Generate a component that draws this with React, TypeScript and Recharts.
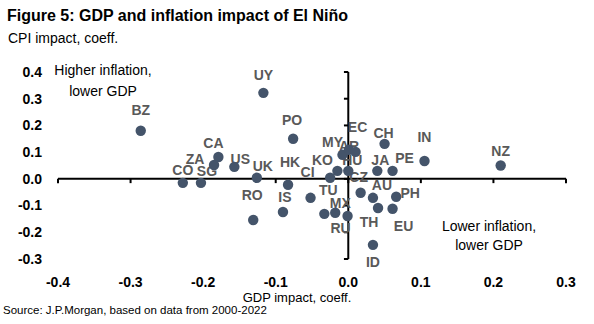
import { ScatterChart, Scatter, XAxis, YAxis, ReferenceLine } from 'recharts';

// Country codes; '' is a dot with no label in the source chart
const countries = [
  'BZ', 'UY', 'CA', 'ZA', 'CO', 'SG', 'US', 'UK', 'RO', 'IS', 'HK', 'PO',
  'CI', 'TU', 'MX', 'RU', '', 'KO', 'HU', 'MY', 'AR', 'EC', 'CZ', 'AU',
  'TH', 'EU', 'PH', 'JA', 'PE', 'CH', 'ID', 'IN', 'NZ',
];
const gdpImpact = [
  -0.286, -0.117, -0.179, -0.185, -0.228, -0.203, -0.157, -0.126, -0.131, -0.09, -0.083, -0.076,
  -0.052, -0.033, -0.018, -0.001, -0.025, -0.015, 0.0, -0.008, 0.001, 0.01, 0.017, 0.034,
  0.041, 0.061, 0.066, 0.04, 0.061, 0.05, 0.034, 0.105, 0.21,
];
const cpiImpact = [
  0.18, 0.322, 0.082, 0.052, -0.015, -0.015, 0.045, 0.004, -0.154, -0.124, -0.022, 0.15,
  -0.071, -0.131, -0.127, -0.139, 0.004, 0.03, 0.03, 0.09, 0.109, 0.101, -0.052, -0.071,
  -0.109, -0.112, -0.067, 0.03, 0.03, 0.131, -0.247, 0.067, 0.05,
];
const xTicks = [-0.4, -0.3, -0.2, -0.1, 0.0, 0.1, 0.2, 0.3];
const yTicks = [-0.3, -0.2, -0.1, 0.0, 0.1, 0.2, 0.3, 0.4];

// where each label sits relative to its dot (px)
const labelOffset: Record<string, [number, number]> = {
  BZ: [0, -21], UY: [0, -18], CA: [-5, -14], ZA: [-19, -6], CO: [0, -13], SG: [6, -12],
  US: [6, -8], UK: [6, -12], RO: [-1, -25], IS: [2, -15], HK: [2, -23], PO: [-1, -19],
  CI: [-3, -26], TU: [4, -24], MX: [5, -10], RU: [-7, 12], KO: [-15, -11], HU: [4, -11],
  MY: [-10, -13], AR: [0, -4], EC: [2, -25], CZ: [-2, -16], AU: [9, -13], TH: [-9, 14],
  EU: [11, 17], PH: [14, -4], JA: [3, -11], PE: [12, -13], CH: [-1, -11], ID: [0, 17],
  IN: [0, -24], NZ: [0, -14],
};

const points = countries.map((code, i) => ({ code, x: gdpImpact[i], y: cpiImpact[i] }));

const FONT = "'Liberation Sans', Arial, sans-serif";
const DOT = '#44546A';

const LabelShape = (props: any) => {
  const code = props.payload?.code;
  if (!code) return <g />;
  const [dx, dy] = labelOffset[code] ?? [0, -14];
  return (
    <text
      x={props.cx + dx}
      y={props.cy + dy}
      dy="0.35em"
      textAnchor="middle"
      fontFamily={FONT}
      fontSize={14}
      fontWeight="bold"
      fill="#595959"
    >
      {code}
    </text>
  );
};

const DotShape = (props: any) => <circle cx={props.cx} cy={props.cy} r={5.2} fill={DOT} />;

const XTick = (props: any) => (
  <text x={props.x} y={props.y} dy="0.71em" textAnchor="middle" fontFamily={FONT} fontSize={14} fontWeight="bold" fill="#000">
    {Number(props.payload.value).toFixed(1)}
  </text>
);

const YTick = (props: any) => (
  <text x={props.x} y={props.y} dy="0.35em" textAnchor="end" fontFamily={FONT} fontSize={14} fontWeight="bold" fill="#000">
    {Number(props.payload.value).toFixed(1)}
  </text>
);

export default function App() {
  return (
    <div style={{ position: 'absolute', left: 0, top: 0, width: 594, height: 324, background: '#fff' }}>
      <ScatterChart width={594} height={324} margin={{ top: 72, right: 28, bottom: 35, left: 0 }}>
        <XAxis
          type="number"
          dataKey="x"
          domain={[-0.4, 0.3]}
          ticks={xTicks}
          axisLine={false}
          tickLine={false}
          tickMargin={12}
          height={30}
          tick={<XTick />}
        />
        <YAxis
          type="number"
          dataKey="y"
          domain={[-0.3, 0.4]}
          ticks={yTicks}
          axisLine={false}
          tickLine={false}
          tickMargin={10}
          width={58}
          tick={<YTick />}
        />
        <Scatter data={points} shape={LabelShape} isAnimationActive={false} />
        <ReferenceLine y={0} stroke="#000" strokeWidth={2} />
        <ReferenceLine x={0} stroke="#000" strokeWidth={2} />
        {xTicks.map((t) => (
          <ReferenceLine key={'xt' + t} segment={[{ x: t, y: 0 }, { x: t, y: -0.016 }]} stroke="#000" strokeWidth={2} />
        ))}
        {yTicks.map((t) => (
          <ReferenceLine key={'yt' + t} segment={[{ x: 0, y: t }, { x: -0.006, y: t }]} stroke="#000" strokeWidth={2} />
        ))}
        <Scatter data={points} shape={DotShape} isAnimationActive={false} />
      </ScatterChart>
      <svg width={594} height={324} style={{ position: 'absolute', left: 0, top: 0, pointerEvents: 'none' }} fontFamily={FONT}>
        <text x={7} y={21} fontSize={16} fontWeight="bold" fill="#000">Figure 5: GDP and inflation impact of El Niño</text>
        <text x={8} y={43} fontSize={14} fill="#000">CPI impact, coeff.</text>
        <text x={103} y={75} fontSize={14} fill="#000" textAnchor="middle">Higher inflation,</text>
        <text x={103} y={96} fontSize={14} fill="#000" textAnchor="middle">lower GDP</text>
        <text x={489} y={231} fontSize={14} fill="#000" textAnchor="middle">Lower inflation,</text>
        <text x={489} y={250} fontSize={14} fill="#000" textAnchor="middle">lower GDP</text>
        <text x={297} y={302} fontSize={13} fill="#000" textAnchor="middle">GDP impact, coeff.</text>
        <text x={3} y={314} fontSize={11.5} fill="#000">Source: J.P.Morgan, based on data from 2000-2022</text>
      </svg>
    </div>
  );
}
